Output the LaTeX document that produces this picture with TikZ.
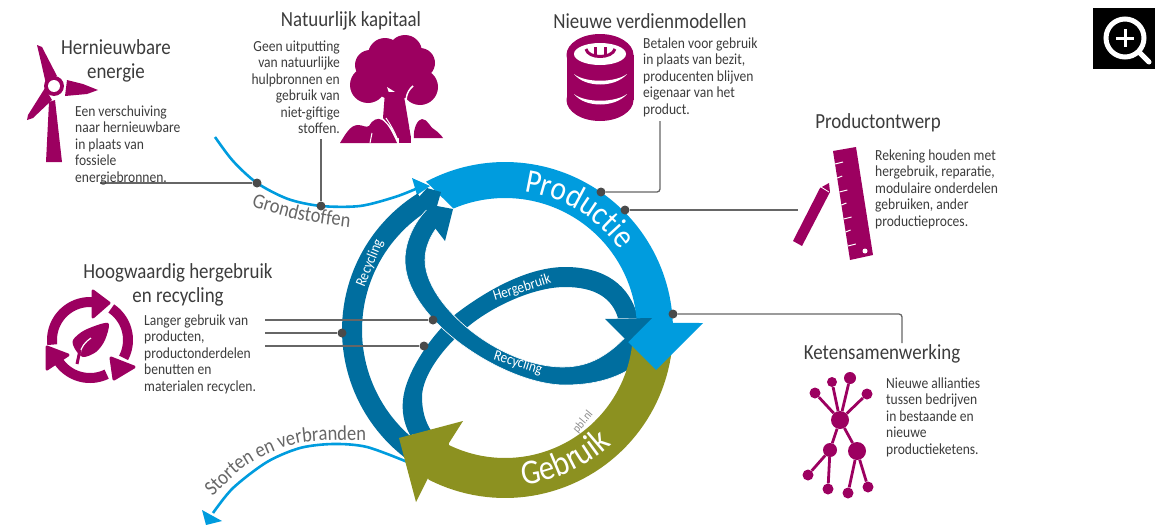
\documentclass[tikz,border=0pt]{standalone}
\usepackage{fontspec}
\setmainfont[FakeStretch=0.88]{Carlito}
\usetikzlibrary{decorations.text}
\definecolor{plumicon}{HTML}{9C0060}
\definecolor{lightblue}{HTML}{009CDE}
\definecolor{darkblue}{HTML}{006E9F}
\definecolor{oliveband}{HTML}{8C9120}
\definecolor{inktext}{HTML}{3C3C3C}
\definecolor{leadgrey}{HTML}{666666}
\definecolor{dotgrey}{HTML}{4A4A4A}
\newcommand{\ringfont}{\fontsize{33.5}{35}\selectfont\color{white}}
\newcommand{\useringfont}{\fontsize{35}{35}\selectfont\color{white}}
\newcommand{\flowfont}{\fontsize{21}{21}\selectfont\color{leadgrey}}
\begin{document}
\begin{tikzpicture}[x=1pt,y=-1pt,
    heading/.style={font=\fontsize{21.5}{23.5}\selectfont,text=inktext,align=center,inner sep=0pt},
    bodyleft/.style={font=\fontsize{15.4}{16.5}\selectfont,text=inktext,align=left,inner sep=0pt,anchor=north west},
    bodyright/.style={font=\fontsize{15.4}{16.5}\selectfont,text=inktext,align=right,inner sep=0pt,anchor=north east},
    bandlabel/.style={font=\fontsize{15}{15}\selectfont,text=white,inner sep=0pt},
    dot/.style={circle,fill=dotgrey,inner sep=0pt,minimum size=9pt},
    lead/.style={leadgrey,line width=1.3pt,rounded corners=3pt},
    hubnode/.style={circle,fill=plumicon,inner sep=0pt},
    spoke/.style={plumicon,line width=2.8pt},
    flowline/.style={lightblue,line width=2.6pt}]
  \useasboundingbox (0,0) rectangle (1176,525);

  \fill[black] (1093,8) rectangle (1155,69);
  \draw[white,line width=5pt] (1125,38) circle (19);
  \draw[white,line width=3pt] (1125,29) -- (1125,47);
  \draw[white,line width=3pt] (1116,38) -- (1134,38);
  \draw[white,line width=5pt,line cap=round] (1139,52) -- (1149,62);

  \draw[flowline] plot[smooth] coordinates {(215,137) (233,161) (257,183) (288,199) (321,206) (360,206) (395,197) (418,188)};
  \fill[lightblue] (412,178) -- (430,186) -- (417,195) -- cycle;
  \draw[flowline] plot[smooth] coordinates {(410,463) (367,447) (333,444) (300,448) (267,462) (233,488) (213,513)};
  \fill[lightblue] (202,510) -- (222,521) -- (206,525) -- cycle;

  \fill[darkblue] plot[domain=122:232,samples=50,variable=\t] ({503+161*cos(\t)},{330-161*sin(\t)}) -- plot[domain=232:122,samples=50,variable=\t] ({503+141*cos(\t)},{330-141*sin(\t)}) -- cycle;
  \fill[darkblue] (410,435) .. controls (403,422) and (402,410) .. (403,400) .. controls (405,375) and (430,335) .. (457,313) .. controls (490,288) and (530,267) .. (565,267) .. controls (605,267) and (630,285) .. (638,318) -- (618,318) .. controls (612,298) and (595,287) .. (565,287) .. controls (535,287) and (495,305) .. (470,325) .. controls (445,345) and (422,375) .. (422,397) .. controls (422,410) and (425,422) .. (432,432) -- cycle;
  \fill[darkblue,draw=white,line width=0.6pt] (640,362) .. controls (620,378) and (595,385) .. (565,385) .. controls (505,385) and (405,320) .. (405,260) .. controls (405,238) and (418,216) .. (432,205) -- (438,226) .. controls (430,236) and (425,248) .. (425,260) .. controls (425,305) and (500,367) .. (563,367) .. controls (590,367) and (610,355) .. (632,330) -- cycle;

  \fill[oliveband] plot[domain=-5:-117,samples=50,variable=\t] ({505+168*cos(\t)},{330-168*sin(\t)}) -- (428,478) -- (416,502) -- (399,438) -- (463,421) -- (449,443) -- plot[domain=-116:-5,samples=50,variable=\t] ({505+128*cos(\t)},{330-128*sin(\t)}) -- cycle;
  \fill[lightblue] plot[domain=118:2.4,samples=60,variable=\t] ({505+168*cos(\t)},{330-168*sin(\t)}) -- (703,323) -- (656,370) -- (628,342) -- plot[domain=-1:113,samples=60,variable=\t] ({505+132*cos(\t)},{330-132*sin(\t)}) -- cycle;

  \fill[darkblue] (427,188) -- (441,192) -- (437,206) -- (453,209) -- (445,241) -- (435,228) -- (428,212) -- (418,198) -- cycle;
  \fill[darkblue] (605,319) -- (652,318) -- (628,342) -- cycle;

  \path[decorate,decoration={text along path,text={|\ringfont|Productie},text align=center}] plot[domain=92:25,samples=60,variable=\t] ({505+140*cos(\t)},{330-140*sin(\t)});
  \path[decorate,decoration={text along path,text={|\useringfont|Gebruik},text align=center}] plot[domain=-98:-32,samples=60,variable=\t] ({505+156*cos(\t)},{330-156*sin(\t)});
  \path[decorate,decoration={text along path,text={|\flowfont|Grondstoffen},text align=center}] plot[smooth] coordinates {(225,196) (253,207) (300,220) (348,227) (378,229)};
  \path[decorate,decoration={text along path,text={|\flowfont|Storten en verbranden},text align=center}] plot[smooth] coordinates {(196,514) (213,496) (250,463) (300,443) (367,440) (390,443)};

  \node[bandlabel,rotate=68] (recyclingouter) at (370,263) {Recycling};
  \node[bandlabel,rotate=17] (hergebruikband) at (522,288) {Hergebruik};
  \node[bandlabel,rotate=-17] (recyclingband) at (518,363) {Recycling};
  \node[font=\fontsize{12}{12}\selectfont,text=black!45,inner sep=0pt,rotate=50] (pbl) at (583,422) {pbl.nl};

  \node[dot] (dotenergie) at (257,183) {};
  \node[dot] (dotkapitaal) at (321,206) {};
  \node[dot] (dotmodel) at (601,192) {};
  \node[dot] (dotontwerp) at (625,210) {};
  \node[dot] (dotketen) at (673,314) {};
  \node[dot] (dothergebruik) at (433,320) {};
  \node[dot] (dotrecycling) at (342,333) {};
  \node[dot] (dotmateriaal) at (424,346) {};
  \coordinate (endenergie) at (100,183);
  \coordinate (endkapitaal) at (321,139);
  \coordinate (endmodel) at (660,121);
  \coordinate (endontwerp) at (798,210);
  \coordinate (endketen) at (902,343);
  \coordinate (endhergebruik) at (265,320);
  \coordinate (endrecycling) at (265,333);
  \coordinate (endmateriaal) at (265,346);
  \draw[lead] (endenergie) -- (dotenergie);
  \draw[lead] (endkapitaal) -- (dotkapitaal);
  \draw[lead] (dotmodel) -| (endmodel);
  \draw[lead] (dotontwerp) -- (endontwerp);
  \draw[lead] (dotketen) -| (endketen);
  \draw[lead] (endhergebruik) -- (dothergebruik);
  \draw[lead] (endrecycling) -- (dotrecycling);
  \draw[lead] (endmateriaal) -- (dotmateriaal);

  \node[heading] (energietitle) at (116,61) {Hernieuwbare\\energie};
  \node[bodyleft] (energietext) at (75,105.5) {Een verschuiving\\naar hernieuwbare\\in plaats van\\fossiele\\energiebronnen.};
  \node[heading] (kapitaaltitle) at (351,21) {Natuurlijk kapitaal};
  \node[bodyright] (kapitaaltext) at (340,40.5) {Geen uitputting\\van natuurlijke\\hulpbronnen en\\gebruik van\\niet-giftige\\stoffen.};
  \node[heading] (modeltitle) at (650,21) {Nieuwe verdienmodellen};
  \node[bodyleft] (modeltext) at (643,37.5) {Betalen voor gebruik\\in plaats van bezit,\\producenten blijven\\eigenaar van het\\product.};
  \node[heading] (ontwerptitle) at (878,123) {Productontwerp};
  \node[bodyleft] (ontwerptext) at (875,149.5) {Rekening houden met\\hergebruik, reparatie,\\modulaire onderdelen\\gebruiken, ander\\productieproces.};
  \node[heading] (hergebruiktitle) at (178,285) {Hoogwaardig hergebruik\\en recycling};
  \node[bodyleft] (hergebruiktext) at (144,314.5) {Langer gebruik van\\producten,\\productonderdelen\\benutten en\\materialen recyclen.};
  \node[heading] (ketentitle) at (882,354) {Ketensamenwerking};
  \node[bodyleft] (ketentext) at (886,377.5) {Nieuwe allianties\\tussen bedrijven\\in bestaande en\\nieuwe\\productieketens.};

  \fill[plumicon] (49,102) -- (55,100) -- (62,162) -- (46,162) -- cycle;
  \fill[plumicon] (37,45) -- (42,47) -- (57,76) -- (46,84) -- (41,62) -- cycle;
  \fill[plumicon] (98,90) -- (83,84) -- (67,80) -- (65,96) -- (87,94) -- cycle;
  \fill[plumicon] (27,120) -- (28,115) -- (45,88) -- (52,100) -- (33,118) -- cycle;
  \fill[plumicon] (54,86) circle (10);
  \fill[white] (54,86) circle (6);

  \fill[plumicon] (395,73) circle (27);
  \foreach \cx/\cy/\cr in {385/55/17,405/52/17,420/63/15,370/65/15,420/87/18,368/85/18}
    \fill[plumicon] (\cx,\cy) circle (\cr);
  \fill[white] (387,87) -- (395,92) -- (390,96) -- cycle;
  \draw[white,line width=1.5pt] (413,86) .. controls (406,92) and (405,100) .. (407,108);
  \fill[plumicon] (385,92) -- (403,92) -- (405,102) -- (408,120) -- (411,138) -- (397,138) -- (392,128) -- (383,118) -- cycle;
  \fill[plumicon] (340,143) .. controls (345,135) and (350,125) .. (358,125) .. controls (363,125) and (366,128) .. (369,126) .. controls (372,120) and (378,117) .. (382,120) .. controls (388,124) and (392,132) .. (397,143) -- cycle;
  \draw[white,line width=1pt] (386,118) .. controls (390,124) and (394,130) .. (399,143);
  \fill[plumicon] (399,136) rectangle (411,143);
  \draw[white,line width=1pt] (370,143) -- (372,133);
  \draw[white,line width=1pt] (410,128) -- (414,143);
  \fill[plumicon] (414,138) .. controls (413,128) and (418,119) .. (422,119) .. controls (428,119) and (430,128) .. (435,130) .. controls (438,132) and (441,135) .. (443,138) -- cycle;

  \fill[plumicon] (600,55) ellipse (33.5 and 21);
  \fill[plumicon] (566.5,55) rectangle (633.5,100);
  \fill[plumicon] (600,100) ellipse (33.5 and 21);
  \fill[white] (600,54) ellipse (26 and 11);
  \fill[white] (574,74) .. controls (585,83) and (615,83) .. (627,74) .. controls (615,88) and (585,88) .. cycle;
  \fill[white] (574,94) .. controls (585,103) and (615,103) .. (627,94) .. controls (615,108) and (585,108) .. cycle;
  \draw[plumicon,line width=3pt] (586,49) .. controls (588,59) and (612,59) .. (615,49);
  \draw[plumicon,line width=3pt] (595,47) -- (595,57);
  \draw[plumicon,line width=3pt] (605,47) -- (605,57);

  \fill[plumicon] (833,151) -- (856,147) -- (873,255) -- (850,260) -- cycle;
  \foreach \ty/\tl in {164/8,178/5,192/8,205/5,219/8,232/5,246/8}
    \draw[white,line width=1pt] ({833+(\ty-151)*17/109},\ty) -- ++(\tl,-2);
  \fill[white] (865,251) circle (2.5);
  \fill[plumicon] (793,241) -- (820,188) -- (829,183) -- (830,192) -- (802,246) -- cycle;
  \draw[white,line width=0.8pt] (821,187) -- (829,192);

  \draw[plumicon,line width=10pt] plot[domain=187:78,samples=30,variable=\t] ({90+38*cos(\t)},{340-38*sin(\t)});
  \fill[plumicon,draw=plumicon,line join=round,line width=3pt] (93,291) -- (109,303) -- (93,317) -- cycle;
  \draw[plumicon,line width=10pt] plot[domain=56:-28,samples=30,variable=\t] ({90+38*cos(\t)},{340-38*sin(\t)});
  \fill[plumicon,draw=plumicon,line join=round,line width=3pt] (111,358) -- (114,379) -- (134,367) -- cycle;
  \draw[plumicon,line width=10pt] plot[domain=-64:-146,samples=30,variable=\t] ({90+38*cos(\t)},{340-38*sin(\t)});
  \fill[plumicon,draw=plumicon,line join=round,line width=3pt] (68,355) -- (47,347) -- (47,369) -- cycle;
  \fill[plumicon] plot[smooth cycle] coordinates {(108,323) (85,330) (73,340) (75,349) (83,357) (96,352) (105,340)};
  \draw[white,line width=1.2pt] (91,338) .. controls (85,342) and (81,347) .. (80,354);
  \draw[plumicon,line width=3pt] (80,350) -- (77,364);

  \node[hubnode,minimum size=18pt] (hubtop) at (840,420) {};
  \node[hubnode,minimum size=14pt] (hubleft) at (830,450) {};
  \node[hubnode,minimum size=18pt] (hubright) at (857,451) {};
  \foreach \tipname/\tipx/\tipy/\tipsize/\tiphub in {a/832/382/10/hubtop,b/850/378/12/hubtop,c/815/393/11/hubtop,d/867/394/11/hubtop,e/808/475/11/hubleft,f/828/489/11/hubleft,g/848/493/11/hubright,h/868/487/11/hubright}{
    \node[hubnode,minimum size=\tipsize pt] (tip\tipname) at (\tipx,\tipy) {};
    \draw[spoke] (tip\tipname) -- (\tiphub);
  }
  \draw[spoke] (hubtop) -- (hubleft);
  \draw[spoke] (hubtop) -- (hubright);
\end{tikzpicture}
\end{document}
